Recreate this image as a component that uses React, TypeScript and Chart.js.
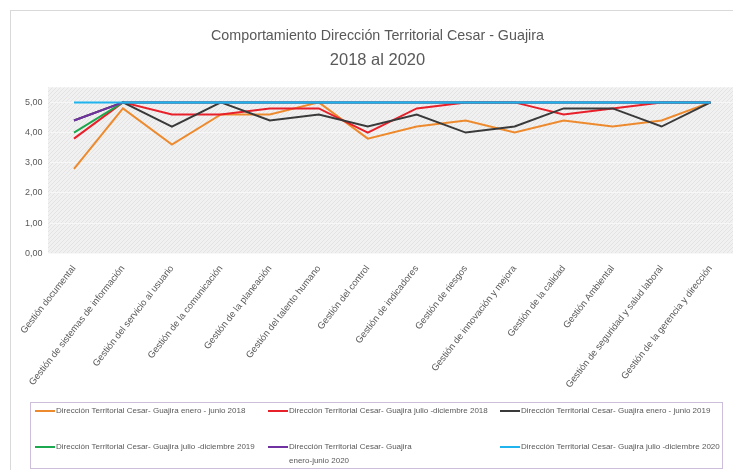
import React, { useEffect, useRef } from 'react';
import { Chart, registerables } from 'chart.js';

Chart.register(...registerables);

const categories = [
  'Gestión documental',
  'Gestión de sistemas de información',
  'Gestión del servicio al usuario',
  'Gestión de la comunicación',
  'Gestión de la planeación',
  'Gestión del talento humano',
  'Gestión del control',
  'Gestión de indicadores',
  'Gestión de riesgos',
  'Gestión de innovación y mejora',
  'Gestión de la calidad',
  'Gestión Ambiental',
  'Gestión de seguridad y salud laboral',
  'Gestión de la gerencia y dirección',
];

const seriesLabels = [
  'Dirección Territorial Cesar- Guajira enero - junio 2018',
  'Dirección Territorial Cesar- Guajira julio -diciembre 2018',
  'Dirección Territorial Cesar- Guajira enero - junio 2019',
  'Dirección Territorial Cesar- Guajira julio -diciembre 2019',
  'Dirección Territorial Cesar- Guajira\nenero-junio 2020',
  'Dirección Territorial Cesar- Guajira julio -diciembre 2020',
];

const eneJun2018 = [2.8, 4.8, 3.6, 4.6, 4.6, 5.0, 3.8, 4.2, 4.4, 4.0, 4.4, 4.2, 4.4, 5.0];
const julDic2018 = [3.8, 5.0, 4.6, 4.6, 4.8, 4.8, 4.0, 4.8, 5.0, 5.0, 4.6, 4.8, 5.0, 5.0];
const eneJun2019 = [4.4, 5.0, 4.2, 5.0, 4.4, 4.6, 4.2, 4.6, 4.0, 4.2, 4.8, 4.8, 4.2, 5.0];
const julDic2019 = [4.0, 5.0, 5.0, 5.0, 5.0, 5.0, 5.0, 5.0, 5.0, 5.0, 5.0, 5.0, 5.0, 5.0];
const eneJun2020 = [4.4, 5.0, 5.0, 5.0, 5.0, 5.0, 5.0, 5.0, 5.0, 5.0, 5.0, 5.0, 5.0, 5.0];
const julDic2020 = [5.0, 5.0, 5.0, 5.0, 5.0, 5.0, 5.0, 5.0, 5.0, 5.0, 5.0, 5.0, 5.0, 5.0];

const yTicks = [0, 1, 2, 3, 4, 5];

const seriesValues = [eneJun2018, julDic2018, eneJun2019, julDic2019, eneJun2020, julDic2020];
const seriesColors = ['#EE8A2E', '#E8202A', '#3A3A3A', '#1BA84E', '#7032A0', '#1FB4EE'];

const FONT = "'Liberation Sans', Arial, sans-serif";
const TEXT = '#595959';

const W = 745;
const H = 470;

function makeHatch(): CanvasPattern | string {
  const c = document.createElement('canvas');
  c.width = 4;
  c.height = 4;
  const g = c.getContext('2d');
  if (!g) return '#ededed';
  g.fillStyle = '#f1f1f1';
  g.fillRect(0, 0, 4, 4);
  g.strokeStyle = '#e3e3e3';
  g.lineWidth = 1;
  g.beginPath();
  g.moveTo(0, 4);
  g.lineTo(4, 0);
  g.stroke();
  const p = g.createPattern(c, 'repeat');
  return p || '#ededed';
}

const framePlugin = {
  id: 'frame',
  beforeDraw(chart: any) {
    const { ctx, chartArea } = chart;
    ctx.save();
    ctx.strokeStyle = '#d9d9d9';
    ctx.lineWidth = 1;
    ctx.strokeRect(10.5, 10.5, W, H);
    ctx.fillStyle = makeHatch();
    ctx.fillRect(chartArea.left - 1.5, chartArea.top, chartArea.right - chartArea.left + 1.5, chartArea.bottom - chartArea.top);
    ctx.restore();
  },
};

const legendPlugin = {
  id: 'boxLegend',
  afterDraw(chart: any) {
    const { ctx } = chart;
    ctx.save();
    ctx.strokeStyle = '#cdbfdc';
    ctx.lineWidth = 1;
    ctx.strokeRect(30.5, 402.5, 692, 66);
    const cols = [35, 268, 500];
    const rows = [411, 447];
    ctx.font = `8px ${FONT}`;
    ctx.textBaseline = 'middle';
    ctx.textAlign = 'left';
    chart.data.datasets.forEach((ds: any, i: number) => {
      const x = cols[i % 3];
      const y = rows[Math.floor(i / 3)];
      ctx.strokeStyle = ds.borderColor;
      ctx.lineWidth = 2;
      ctx.beginPath();
      ctx.moveTo(x, y);
      ctx.lineTo(x + 20, y);
      ctx.stroke();
      ctx.fillStyle = TEXT;
      const lines = String(ds.legendText).split('\n');
      lines.forEach((ln: string, k: number) => {
        ctx.fillText(ln, x + 21, y + k * 14);
      });
    });
    ctx.restore();
  },
};

export default function App() {
  const ref = useRef<HTMLCanvasElement | null>(null);

  useEffect(() => {
    if (!ref.current) return;
    const chart = new Chart(ref.current, {
      type: 'line',
      data: {
        labels: categories,
        datasets: seriesValues.map((vals, i) => ({
          label: seriesLabels[i].replace('\n', ' '),
          legendText: seriesLabels[i],
          data: vals,
          borderColor: seriesColors[i],
          backgroundColor: seriesColors[i],
          borderWidth: 2,
          pointRadius: 0,
          tension: 0,
          fill: false,
          order: seriesValues.length - 1 - i,
        })) as any,
      },
      options: {
        animation: false,
        responsive: false,
        devicePixelRatio: 1,
        layout: { padding: { left: 20, right: 10, top: 10, bottom: 0 } },
        plugins: {
          legend: { display: false },
          tooltip: { enabled: false },
          title: {
            display: true,
            text: 'Comportamiento Dirección Territorial Cesar - Guajira',
            color: TEXT,
            font: { family: FONT, size: 14.3, weight: 'normal' },
            padding: { top: 17.42, bottom: 0 },
          },
          subtitle: {
            display: true,
            text: '2018 al 2020',
            color: TEXT,
            font: { family: FONT, size: 16.5, weight: 'normal' },
            padding: { top: 6.02, bottom: 16.9 },
          },
        },
        scales: {
          x: {
            offset: true,
            grid: { display: false, drawTicks: false },
            border: { display: false },
            ticks: {
              autoSkip: false,
              maxRotation: 52,
              minRotation: 52,
              padding: 10,
              color: TEXT,
              font: { family: FONT, size: 9.4 },
            },
            afterFit(scale: any) {
              scale.height = H - 253.3;
              scale.paddingLeft = 0;
              scale.paddingRight = 0;
            },
          },
          y: {
            min: 0,
            max: 5.5,
            grid: { color: '#f7f7f7', drawTicks: false, lineWidth: 1 },
            border: { display: false },
            ticks: {
              stepSize: 1,
              padding: 7,
              color: TEXT,
              font: { family: FONT, size: 9 },
              callback: (v: any) => Number(v).toFixed(2).replace('.', ','),
            },
            afterBuildTicks(scale: any) {
              scale.ticks = yTicks.map((v) => ({ value: v }));
            },
            afterFit(scale: any) {
              scale.width = 29.5;
            },
          },
        },
      },
      plugins: [framePlugin, legendPlugin],
    } as any);
    return () => chart.destroy();
  }, []);

  return (
    <div style={{ position: 'fixed', left: 0, top: 0, width: 733, height: 470, overflow: 'hidden', background: '#fff' }}>
      <canvas ref={ref} width={W} height={H} style={{ display: 'block', width: W, height: H }} />
    </div>
  );
}
